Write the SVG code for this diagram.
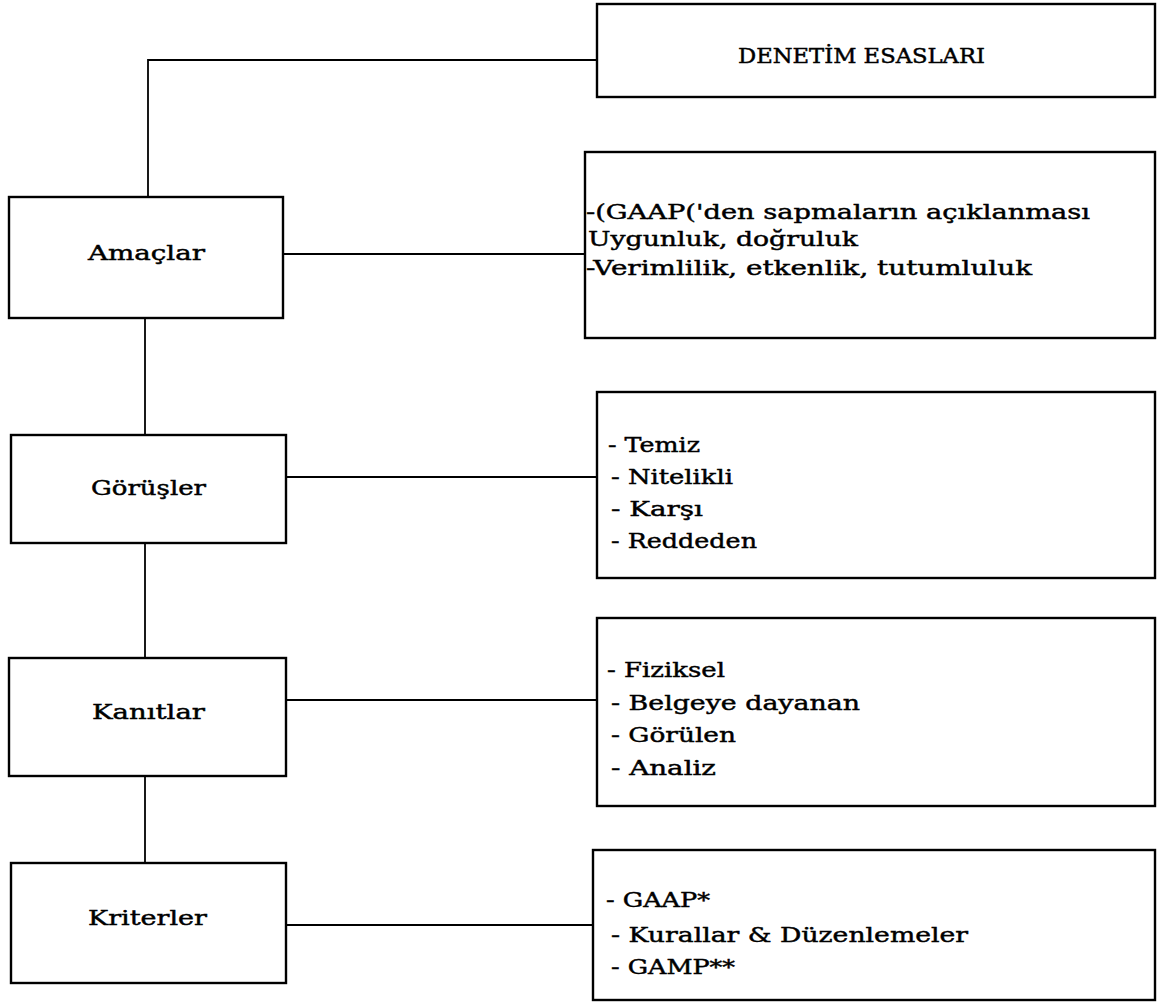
<svg xmlns="http://www.w3.org/2000/svg" width="1158" height="1004" viewBox="0 0 1158 1004">
  <style>
    .box { fill: #ffffff; stroke: #000000; stroke-width: 2.4; }
    .wire { fill: none; stroke: #000000; stroke-width: 1.8; }
    text { font-family: "DejaVu Serif", "Liberation Serif", serif; font-size: 20.5px; fill: #000000; stroke: #000000; stroke-width: 0.45; }
  </style>
  <rect width="1158" height="1004" fill="#ffffff"/>

  <g id="connectors">
    <polyline class="wire" points="597,60 148,60 148,197"/>
    <line class="wire" x1="283" y1="254" x2="585" y2="254"/>
    <line class="wire" x1="145" y1="318" x2="145" y2="435"/>
    <line class="wire" x1="286" y1="477" x2="597" y2="477"/>
    <line class="wire" x1="145" y1="543" x2="145" y2="658"/>
    <line class="wire" x1="286" y1="700" x2="597" y2="700"/>
    <line class="wire" x1="145" y1="776" x2="145" y2="863"/>
    <line class="wire" x1="286" y1="925" x2="593" y2="925"/>
  </g>

  <g id="denetim-esaslari">
    <rect class="box" x="597" y="4" width="558" height="93"/>
    <text x="738" y="63" textLength="247" lengthAdjust="spacingAndGlyphs">DENETİM ESASLARI</text>
  </g>

  <g id="amaclar">
    <rect class="box" x="9" y="197" width="274" height="121"/>
    <text x="88" y="260" textLength="117" lengthAdjust="spacingAndGlyphs">Amaçlar</text>
  </g>

  <g id="amaclar-detay">
    <rect class="box" x="585" y="152" width="570" height="186"/>
    <text x="586" y="219" textLength="504" lengthAdjust="spacingAndGlyphs">-(GAAP('den sapmaların açıklanması</text>
    <text x="588" y="246" textLength="270" lengthAdjust="spacingAndGlyphs">Uygunluk, doğruluk</text>
    <text x="586" y="275" textLength="446" lengthAdjust="spacingAndGlyphs">-Verimlilik, etkenlik, tutumluluk</text>
  </g>

  <g id="gorusler">
    <rect class="box" x="11" y="435" width="275" height="108"/>
    <text x="91" y="495" textLength="115" lengthAdjust="spacingAndGlyphs">Görüşler</text>
  </g>

  <g id="gorusler-detay">
    <rect class="box" x="597" y="392" width="558" height="186"/>
    <text x="608" y="452" textLength="92" lengthAdjust="spacingAndGlyphs">- Temiz</text>
    <text x="611" y="484" textLength="122" lengthAdjust="spacingAndGlyphs">- Nitelikli</text>
    <text x="611" y="516" textLength="92" lengthAdjust="spacingAndGlyphs">- Karşı</text>
    <text x="611" y="548" textLength="146" lengthAdjust="spacingAndGlyphs">- Reddeden</text>
  </g>

  <g id="kanitlar">
    <rect class="box" x="9" y="658" width="277" height="118"/>
    <text x="92" y="719" textLength="113" lengthAdjust="spacingAndGlyphs">Kanıtlar</text>
  </g>

  <g id="kanitlar-detay">
    <rect class="box" x="597" y="618" width="558" height="188"/>
    <text x="607" y="677" textLength="118" lengthAdjust="spacingAndGlyphs">- Fiziksel</text>
    <text x="611" y="710" textLength="249" lengthAdjust="spacingAndGlyphs">- Belgeye dayanan</text>
    <text x="611" y="742" textLength="125" lengthAdjust="spacingAndGlyphs">- Görülen</text>
    <text x="611" y="775" textLength="105" lengthAdjust="spacingAndGlyphs">- Analiz</text>
  </g>

  <g id="kriterler">
    <rect class="box" x="11" y="863" width="275" height="120"/>
    <text x="88" y="925" textLength="119" lengthAdjust="spacingAndGlyphs">Kriterler</text>
  </g>

  <g id="kriterler-detay">
    <rect class="box" x="593" y="850" width="562" height="150"/>
    <text x="606" y="907" textLength="104" lengthAdjust="spacingAndGlyphs">- GAAP*</text>
    <text x="611" y="942" textLength="357" lengthAdjust="spacingAndGlyphs">- Kurallar &amp; Düzenlemeler</text>
    <text x="611" y="974" textLength="124" lengthAdjust="spacingAndGlyphs">- GAMP**</text>
  </g>
</svg>
